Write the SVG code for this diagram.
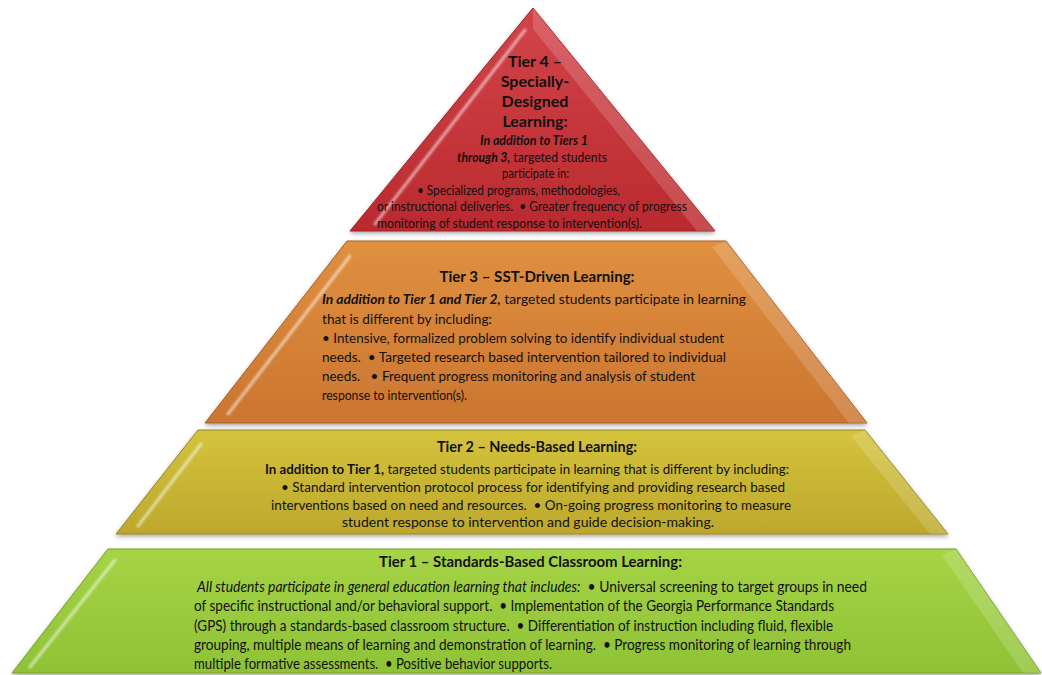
<svg xmlns="http://www.w3.org/2000/svg" width="1042" height="675" viewBox="0 0 1042 675">
<defs>
<linearGradient id="gRed" x1="0" y1="0" x2="0" y2="1"><stop offset="0" stop-color="#d2444a"/><stop offset="1" stop-color="#ba2a2e"/></linearGradient>
<linearGradient id="gOrange" x1="0" y1="0" x2="0" y2="1"><stop offset="0" stop-color="#e0903f"/><stop offset="1" stop-color="#cb7531"/></linearGradient>
<linearGradient id="gYellow" x1="0" y1="0" x2="0" y2="1"><stop offset="0" stop-color="#d4c33c"/><stop offset="1" stop-color="#bda82c"/></linearGradient>
<linearGradient id="gGreen" x1="0" y1="0" x2="0" y2="1"><stop offset="0" stop-color="#a5d445"/><stop offset="1" stop-color="#8fc236"/></linearGradient>
<filter id="shadow" x="-5%" y="-5%" width="110%" height="115%"><feDropShadow dx="0" dy="2" stdDeviation="2" flood-color="#000" flood-opacity="0.35"/></filter>
<filter id="soft" x="-20%" y="-20%" width="140%" height="140%"><feGaussianBlur stdDeviation="1.2"/></filter>
</defs>
<style>
.hl{fill:none;stroke:#ffffff;stroke-opacity:0.55;stroke-width:3;stroke-linecap:round;filter:url(#soft)}
.rs{fill:#ffffff;fill-opacity:0.16}
text{font-family:Lato,Carlito,"Liberation Sans",sans-serif;fill:#111111;white-space:pre}
.h{font-weight:bold;font-size:16px;text-anchor:middle}
.h2{font-weight:bold;font-size:15px}
.b12{font-size:13px}
.b13{font-size:14px}
.b135{font-size:14.5px}
.bi{font-weight:bold;font-style:italic}
.bo{font-weight:bold}
.it{font-style:italic}
</style>
<rect width="1042" height="675" fill="#ffffff"/>

<g id="tier4">
<polygon points="533,8 715,231 350,231" fill="url(#gRed)" stroke="#9e2326" stroke-width="1" filter="url(#shadow)"/>
<polygon class="rs" points="533,8 715,231 697,231 533,29"/>
<line class="hl" x1="525" y1="30" x2="375" y2="224"/>
<text class="h" x="535" y="67">Tier 4 –</text>
<text class="h" x="535" y="87">Specially-</text>
<text class="h" x="535" y="107">Designed</text>
<text class="h" x="535" y="127">Learning:</text>
<text class="b12" x="480" y="145" textLength="108" lengthAdjust="spacingAndGlyphs"><tspan class="bi">In addition to Tiers 1</tspan></text>
<text class="b12" x="457" y="162" textLength="150" lengthAdjust="spacingAndGlyphs"><tspan class="bi">through 3,</tspan> targeted students</text>
<text class="b12" x="502" y="178" textLength="67" lengthAdjust="spacingAndGlyphs">participate in:</text>
<text class="b12" x="417" y="195" textLength="203" lengthAdjust="spacingAndGlyphs">• Specialized programs, methodologies,</text>
<text class="b12" x="377" y="211" textLength="310" lengthAdjust="spacingAndGlyphs">or instructional deliveries.  • Greater frequency of progress</text>
<text class="b12" x="377" y="228" textLength="265" lengthAdjust="spacingAndGlyphs">monitoring of student response to intervention(s).</text>
</g>

<g id="tier3">
<polygon points="347,241 726,241 867,423 205,423" fill="url(#gOrange)" stroke="#a85d22" stroke-width="1" filter="url(#shadow)"/>
<polygon class="rs" points="726,241 867,423 849,423 712,247"/>
<line class="hl" x1="350" y1="256" x2="228" y2="414"/>
<text class="h2" x="537" y="282" text-anchor="middle" textLength="195" lengthAdjust="spacingAndGlyphs">Tier 3 – SST-Driven Learning:</text>
<text class="b13" x="322" y="304" textLength="424" lengthAdjust="spacingAndGlyphs"><tspan class="bi">In addition to Tier 1 and Tier 2,</tspan> targeted students participate in learning</text>
<text class="b13" x="322" y="324" textLength="170" lengthAdjust="spacingAndGlyphs">that is different by including:</text>
<text class="b13" x="322" y="343" textLength="402" lengthAdjust="spacingAndGlyphs">• Intensive, formalized problem solving to identify individual student</text>
<text class="b13" x="322" y="362" textLength="404" lengthAdjust="spacingAndGlyphs">needs.  • Targeted research based intervention tailored to individual</text>
<text class="b13" x="322" y="381" textLength="373" lengthAdjust="spacingAndGlyphs">needs.   • Frequent progress monitoring and analysis of student</text>
<text class="b13" x="322" y="400" textLength="145" lengthAdjust="spacingAndGlyphs">response to intervention(s).</text>
</g>

<g id="tier2">
<polygon points="198,430 865,430 948,534 116,534" fill="url(#gYellow)" stroke="#978521" stroke-width="1" filter="url(#shadow)"/>
<polygon class="rs" points="865,430 948,534 930,534 851,436"/>
<line class="hl" x1="201" y1="444" x2="138" y2="526"/>
<text class="h2" x="537" y="452" text-anchor="middle" textLength="200" lengthAdjust="spacingAndGlyphs">Tier 2 – Needs-Based Learning:</text>
<text class="b13" x="265" y="474" textLength="524" lengthAdjust="spacingAndGlyphs"><tspan class="bo">In addition to Tier 1,</tspan> targeted students participate in learning that is different by including:</text>
<text class="b13" x="281" y="492" textLength="504" lengthAdjust="spacingAndGlyphs">• Standard intervention protocol process for identifying and providing research based</text>
<text class="b13" x="271" y="510" textLength="520" lengthAdjust="spacingAndGlyphs">interventions based on need and resources.  • On-going progress monitoring to measure</text>
<text class="b13" x="342" y="527" textLength="372" lengthAdjust="spacingAndGlyphs">student response to intervention and guide decision-making.</text>
</g>

<g id="tier1">
<polygon points="108,549 956,549 1041,673 12,673" fill="url(#gGreen)" stroke="#74a02a" stroke-width="1" filter="url(#shadow)"/>
<polygon class="rs" points="956,549 1041,673 1023,673 942,555"/>
<line class="hl" x1="115" y1="560" x2="30" y2="667"/>
<text class="h2" x="379" y="567" textLength="303" lengthAdjust="spacingAndGlyphs">Tier 1 – Standards-Based Classroom Learning:</text>
<text class="b135" x="197" y="592" textLength="670" lengthAdjust="spacingAndGlyphs"><tspan class="it">All students participate in general education learning that includes:</tspan>  • Universal screening to target groups in need</text>
<text class="b135" x="194" y="611" textLength="640" lengthAdjust="spacingAndGlyphs">of specific instructional and/or behavioral support.  • Implementation of the Georgia Performance Standards</text>
<text class="b135" x="194" y="631" textLength="639" lengthAdjust="spacingAndGlyphs">(GPS) through a standards-based classroom structure.  • Differentiation of instruction including fluid, flexible</text>
<text class="b135" x="194" y="650" textLength="657" lengthAdjust="spacingAndGlyphs">grouping, multiple means of learning and demonstration of learning.  • Progress monitoring of learning through</text>
<text class="b135" x="194" y="669" textLength="358" lengthAdjust="spacingAndGlyphs">multiple formative assessments.  • Positive behavior supports.</text>
</g>
</svg>
